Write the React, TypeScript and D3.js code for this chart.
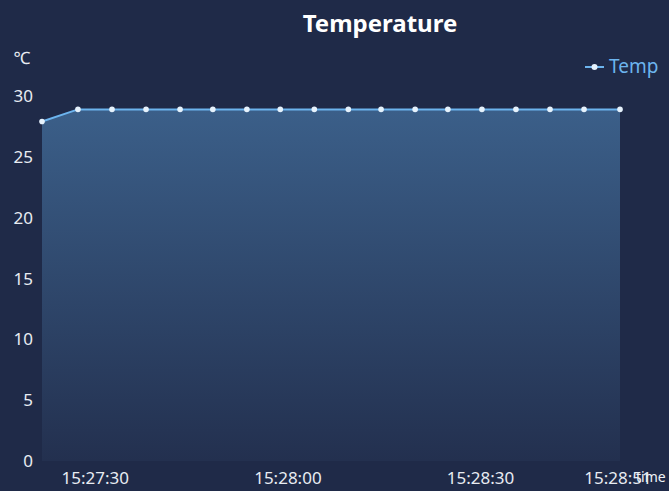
import React from "react";
import * as d3 from "d3";

const times = [
  "15:27:21.400", "15:27:27.000", "15:27:32.300", "15:27:37.600", "15:27:42.900", "15:27:48.000",
  "15:27:53.300", "15:27:58.500", "15:28:03.800", "15:28:09.100", "15:28:14.200", "15:28:19.500",
  "15:28:24.600", "15:28:29.900", "15:28:35.200", "15:28:40.500", "15:28:45.800", "15:28:51.400",
];
const temps = [27.9, 28.9, 28.9, 28.9, 28.9, 28.9, 28.9, 28.9, 28.9, 28.9, 28.9, 28.9, 28.9, 28.9, 28.9, 28.9, 28.9, 28.9];
const yTicks = [0, 5, 10, 15, 20, 25, 30];
const xTickLabels = ["15:27:30.000", "15:28:00.000", "15:28:30.000"];

const W = 669;
const H = 491;
const FONT = "'Microsoft YaHei', 'Noto Sans', 'Open Sans', sans-serif";

const parse = d3.timeParse("%H:%M:%S.%L");
const fmt = d3.timeFormat("%H:%M:%S");

export default function App() {
  const dates = times.map((t) => parse(t) as Date);
  const x = d3.scaleTime().domain([dates[0], dates[dates.length - 1]]).range([42, 620]);
  const y = d3.scaleLinear().domain([0, 30]).range([461, 96]);
  const data = dates.map((d, i) => ({ d, v: temps[i] }));
  const line = d3.line<{ d: Date; v: number }>().x((p) => x(p.d)).y((p) => y(p.v));
  const area = d3
    .area<{ d: Date; v: number }>()
    .x((p) => x(p.d))
    .y0(y(0))
    .y1((p) => y(p.v));
  const tickDates = [...xTickLabels.map((t) => parse(t) as Date), dates[dates.length - 1]];

  return (
    <svg width={W} height={H} style={{ position: "absolute", left: 0, top: 0, display: "block" }}>
      <defs>
        <linearGradient id="areaGrad" x1="0" y1="0" x2="0" y2="1">
          <stop offset="0%" stopColor="#3b5f89" />
          <stop offset="100%" stopColor="#23304f" />
        </linearGradient>
      </defs>
      <rect x={0} y={0} width={W} height={H} fill="#1f2a48" />
      <text x={380} y={32} textAnchor="middle" fill="#ffffff" fontFamily={FONT} fontWeight="bold" fontSize={24}>
        Temperature
      </text>
      <text x={22} y={64} textAnchor="middle" fill="#e8ecf2" fontFamily={FONT} fontSize={17}>
        ℃
      </text>
      {yTicks.map((t) => (
        <text key={t} x={33} y={y(t) + 6} textAnchor="end" fill="#e8ecf2" fontFamily={FONT} fontSize={17}>
          {t}
        </text>
      ))}
      <path d={area(data) || ""} fill="url(#areaGrad)" />
      <path d={line(data) || ""} fill="none" stroke="#6cb4ee" strokeWidth={2} />
      {data.map((p, i) => (
        <circle key={i} cx={x(p.d)} cy={y(p.v)} r={2.8} fill="#e6f2fc" />
      ))}
      {tickDates.map((d, i) => (
        <text key={i} x={x(d) - 2} y={484} textAnchor="middle" fill="#e8ecf2" fontFamily={FONT} fontSize={17}>
          {fmt(d)}
        </text>
      ))}
      <text x={636} y={482} textAnchor="start" fill="#eef1f6" fontFamily={FONT} fontSize={14}>
        time
      </text>
      <line x1={585} y1={67} x2={604} y2={67} stroke="#6cb4ee" strokeWidth={2} />
      <circle cx={594.5} cy={67} r={3} fill="#e6f2fc" />
      <text x={609} y={73} fill="#6cb4ee" fontFamily={FONT} fontSize={19}>
        Temp
      </text>
    </svg>
  );
}
